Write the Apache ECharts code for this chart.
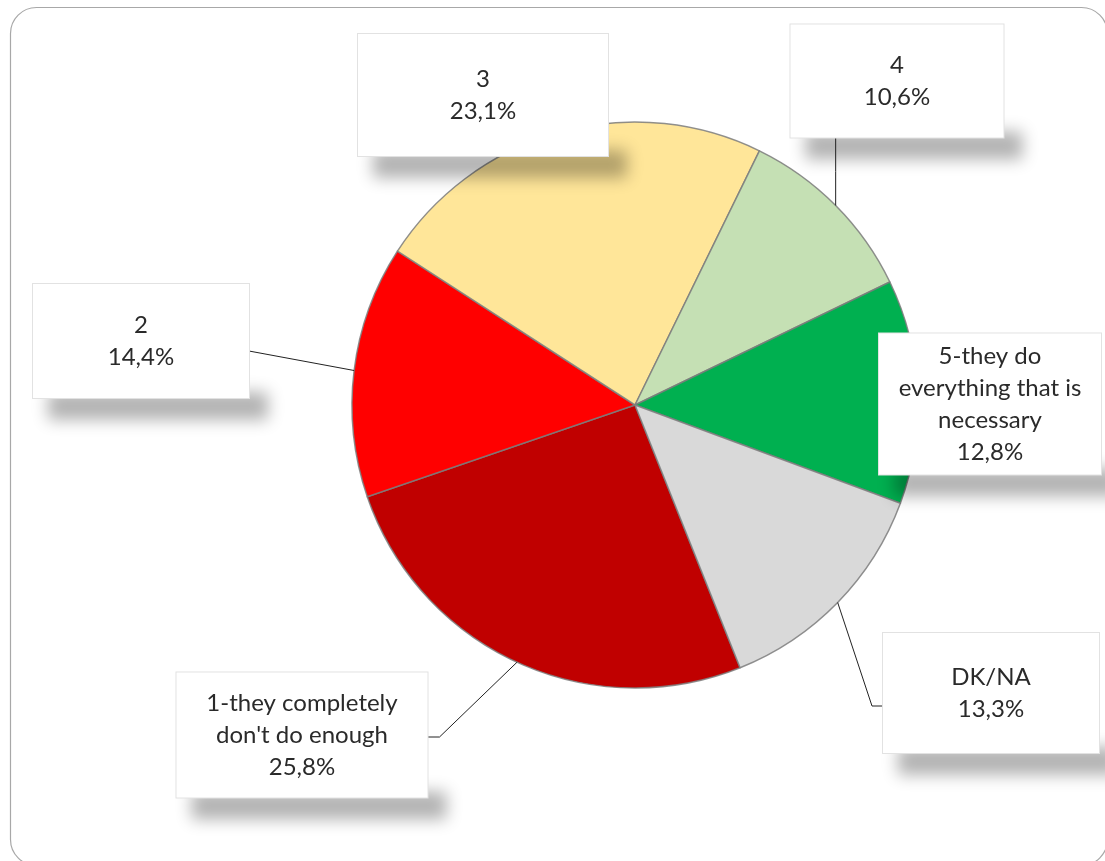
<!DOCTYPE html>
<html>
<head>
<meta charset="utf-8">
<title>Pie chart</title>
<script src="https://cdn.jsdelivr.net/npm/echarts@6/dist/echarts.min.js"></script>
<style>
  html, body { margin: 0; padding: 0; background: #ffffff; }
  #chart { width: 1105px; height: 861px; }
</style>
</head>
<body>
<div id="chart"></div>
<script>
// Answer categories and their shares (%)
const categories = [
  "1-they completely\ndon't do enough",
  '2',
  '3',
  '4',
  '5-they do\neverything that is\nnecessary',
  'DK/NA'
];
const shares = [25.8, 14.4, 23.1, 10.6, 12.8, 13.3];
const sliceColors = ['#C00000', '#FF0000', '#FFE699', '#C5E0B4', '#00B050', '#D9D9D9'];

// Callout boxes: centre, size and how the leader line attaches
const labelBoxes = [
  { cx: 302, cy: 735, w: 251, h: 125, line: 'right', dy: 2, elbow: 12 },
  { cx: 141, cy: 341, w: 216, h: 114, line: 'right', dy: 10, elbow: 0 },
  { cx: 483, cy: 95,  w: 250, h: 122, line: null },
  { cx: 897, cy: 81,  w: 213, h: 113, line: 'bottom' },
  { cx: 990, cy: 404, w: 222, h: 141, line: null },
  { cx: 991, cy: 693, w: 216, h: 120, line: 'left', dy: 13, elbow: 11 }
];

const PIE_CENTER = [635, 405];
const PIE_RADIUS = 283;
const START_ANGLE = -68.2;
const LINE_H = 32;
const TEXT_NUDGE = 3;
// shadow boxes are drawn far off to the left and only their blurred shadow is cast back
const SHADOW_SHIFT = 3000;

function labelText(i) {
  return categories[i] + '\n' + shares[i].toFixed(1).replace('.', ',') + '%';
}

function midEdgePoint(i) {
  const total = shares.reduce((a, b) => a + b, 0);
  let before = 0;
  for (let k = 0; k < i; k++) before += shares[k];
  const ang = (START_ANGLE - (before + shares[i] / 2) / total * 360) * Math.PI / 180;
  return [PIE_CENTER[0] + PIE_RADIUS * Math.cos(ang), PIE_CENTER[1] - PIE_RADIUS * Math.sin(ang)];
}

function placeLabel(params) {
  const i = params.dataIndex;
  const b = labelBoxes[i];
  const out = { x: b.cx, y: b.cy, align: 'center', verticalAlign: 'middle' };
  if (b.line) {
    const pts = params.labelLinePoints;
    const edge = (pts && pts[0]) ? pts[0] : midEdgePoint(i);
    let a, c;
    if (b.line === 'right') {
      c = [b.cx + b.w / 2, b.cy + b.dy];
      a = [c[0] + b.elbow, c[1]];
    } else if (b.line === 'left') {
      c = [b.cx - b.w / 2, b.cy + b.dy];
      a = [c[0] - b.elbow, c[1]];
    } else {
      c = [edge[0], b.cy + b.h / 2];
      a = [edge[0], (edge[1] + c[1]) / 2];
    }
    out.labelLinePoints = [edge, a, c];
  }
  return out;
}

function placeShadow(params) {
  const b = labelBoxes[params.dataIndex];
  return {
    x: b.cx + 17 - SHADOW_SHIFT,
    y: b.cy + b.h / 2 + 8,
    align: 'center',
    verticalAlign: 'middle'
  };
}

const sliceData = categories.map((name, i) => ({
  name: name,
  value: shares[i],
  itemStyle: { color: sliceColors[i] }
}));

const shadowData = categories.map((name, i) => ({
  name: name,
  value: shares[i],
  label: { width: labelBoxes[i].w + 4 }
}));

const labelData = categories.map((name, i) => {
  const lines = labelText(i).split('\n').length;
  const padV = (labelBoxes[i].h - lines * LINE_H) / 2;
  return {
    name: name,
    value: shares[i],
    label: {
      width: labelBoxes[i].w,
      padding: [padV + TEXT_NUDGE, 0, padV - TEXT_NUDGE, 0]
    },
    labelLine: { show: !!labelBoxes[i].line }
  };
});

const chart = echarts.init(document.getElementById('chart'), null, { renderer: 'canvas' });

const common = {
  type: 'pie',
  center: PIE_CENTER,
  radius: PIE_RADIUS,
  startAngle: START_ANGLE,
  clockwise: true,
  avoidLabelOverlap: false,
  animation: false,
  emphasis: { disabled: true }
};

chart.setOption({
  backgroundColor: '#ffffff',
  animation: false,
  graphic: [{
    type: 'rect',
    shape: { x: 10.5, y: 7.5, width: 1097, height: 858, r: 26 },
    style: { fill: 'none', stroke: '#a8a8a8', lineWidth: 1.2 },
    silent: true,
    z: 0
  }],
  series: [
    Object.assign({}, common, {
      name: 'slices',
      z: 2,
      data: sliceData,
      itemStyle: { borderColor: 'rgba(125,125,125,0.85)', borderWidth: 1.5 },
      label: { show: false },
      labelLine: { show: false }
    }),
    Object.assign({}, common, {
      name: 'callout shadows',
      z: 3,
      silent: true,
      data: shadowData,
      itemStyle: { color: 'rgba(0,0,0,0)', borderWidth: 0 },
      label: {
        show: true,
        position: 'outside',
        formatter: ' ',
        fontSize: 2,
        lineHeight: 2,
        padding: [13, 0, 13, 0],
        backgroundColor: '#000000',
        shadowColor: 'rgba(0,0,0,0.3)',
        shadowBlur: 16,
        shadowOffsetX: SHADOW_SHIFT,
        shadowOffsetY: 0
      },
      labelLine: { show: false },
      labelLayout: placeShadow
    }),
    Object.assign({}, common, {
      name: 'callouts',
      z: 4,
      silent: true,
      data: labelData,
      itemStyle: { color: 'rgba(0,0,0,0)', borderWidth: 0 },
      label: {
        show: true,
        position: 'outside',
        formatter: (p) => labelText(p.dataIndex),
        fontFamily: 'Lato',
        fontSize: 24,
        lineHeight: LINE_H,
        color: '#2a2a2a',
        align: 'center',
        backgroundColor: '#ffffff',
        borderColor: '#e2e2e2',
        borderWidth: 1
      },
      labelLine: {
        show: true,
        lineStyle: { color: '#222222', width: 1 }
      },
      labelLayout: placeLabel
    })
  ]
});
</script>
</body>
</html>
